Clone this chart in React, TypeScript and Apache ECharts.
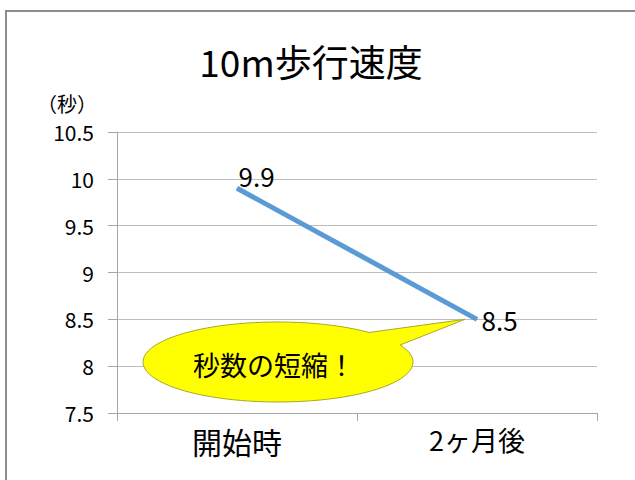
import React, { useEffect, useRef } from "react";
import * as echarts from "echarts";

const categories = ["開始時", "2ヶ月後"];
const values = [9.9, 8.5];
const yMin = 7.5;
const yMax = 10.5;
const yInterval = 0.5;
const titleText = "10m歩行速度";
const unitText = "（秒）";
const calloutText = "秒数の短縮！";

const FONT = "'Noto Sans CJK JP', 'Noto Sans', sans-serif";

export default function App() {
  const ref = useRef<HTMLDivElement>(null);
  useEffect(() => {
    if (!ref.current) return;
    const chart = echarts.init(ref.current, null, { renderer: "svg" });
    const option: any = {
      animation: false,
      backgroundColor: "#ffffff",
      textStyle: { fontFamily: FONT },
      grid: { left: 117, right: 38, top: 132, bottom: 67, containLabel: false },
      xAxis: {
        type: "category",
        data: categories,
        boundaryGap: true,
        axisLine: { lineStyle: { color: "#A6A6A6", width: 1 } },
        axisTick: { show: true, length: 8, lineStyle: { color: "#A6A6A6" } },
        axisLabel: {
          margin: 13,
          color: "#000",
          fontFamily: FONT,
          formatter: (v: string, i: number) => (i === 0 ? `{a|${v}}` : `{b|${v}}`),
          rich: {
            a: { fontSize: 30, fontFamily: FONT, color: "#000" },
            b: { fontSize: 27, fontFamily: FONT, color: "#000" },
          },
        },
        splitLine: { show: false },
      },
      yAxis: {
        type: "value",
        min: yMin,
        max: yMax,
        interval: yInterval,
        axisLine: { show: true, lineStyle: { color: "#A6A6A6", width: 1 } },
        axisTick: { show: true, length: 9, lineStyle: { color: "#A6A6A6" } },
        axisLabel: { margin: 23, fontSize: 21, color: "#000", fontFamily: FONT },
        splitLine: { show: true, lineStyle: { color: "#BDBDBD", width: 1 } },
      },
      series: [
        {
          type: "line",
          data: values.map((v, i) => ({
            value: v,
            label:
              i === 0
                ? { position: "right", offset: [-4, -13] }
                : { position: "right", distance: 4 },
          })),
          showSymbol: true,
          symbol: "circle",
          symbolSize: 1,
          itemStyle: { color: "#5B9BD5" },
          lineStyle: { color: "#5B9BD5", width: 5 },
          label: {
            show: true,
            fontSize: 26,
            color: "#000",
            fontFamily: FONT,
          },
        },
      ],
    };
    chart.setOption(option);

    const p = chart.convertToPixel({ seriesIndex: 0 }, [1, values[1]]) as number[];
    const tip = [p[0] - 12, p[1]];
    const cx = 278,
      cy = 362,
      rx = 135,
      ry = 40;
    const tR = -0.44;
    const tL = -0.83 + Math.PI * 2;
    const pts: number[][] = [tip];
    const n = 90;
    for (let k = 0; k <= n; k++) {
      const t = tR + ((tL - tR) * k) / n;
      pts.push([cx + rx * Math.cos(t), cy + ry * Math.sin(t)]);
    }

    chart.setOption({
      graphic: [
        {
          type: "rect",
          shape: { x: 6, y: 11, width: 700, height: 600 },
          style: { fill: "none", stroke: "#8C8C8C", lineWidth: 2 },
          silent: true,
        },
        {
          type: "text",
          x: 311,
          y: 61,
          style: {
            text: titleText,
            font: `37px ${FONT}`,
            fill: "#000",
            align: "center",
            verticalAlign: "middle",
          },
        },
        {
          type: "text",
          x: 67,
          y: 103,
          style: {
            text: unitText,
            font: `20px ${FONT}`,
            fill: "#000",
            align: "center",
            verticalAlign: "middle",
          },
        },
        {
          type: "polygon",
          shape: { points: pts },
          style: { fill: "#FFFF00", stroke: "#A8A82A", lineWidth: 1 },
          z: 100,
        },
        {
          type: "text",
          x: 274,
          y: 364,
          z: 101,
          style: {
            text: calloutText,
            font: `27px ${FONT}`,
            fill: "#000",
            align: "center",
            verticalAlign: "middle",
          },
        },
      ],
    });

    return () => chart.dispose();
  }, []);
  return (
    <div
      ref={ref}
      style={{ position: "fixed", left: 0, top: 0, width: 635, height: 480 }}
    />
  );
}
